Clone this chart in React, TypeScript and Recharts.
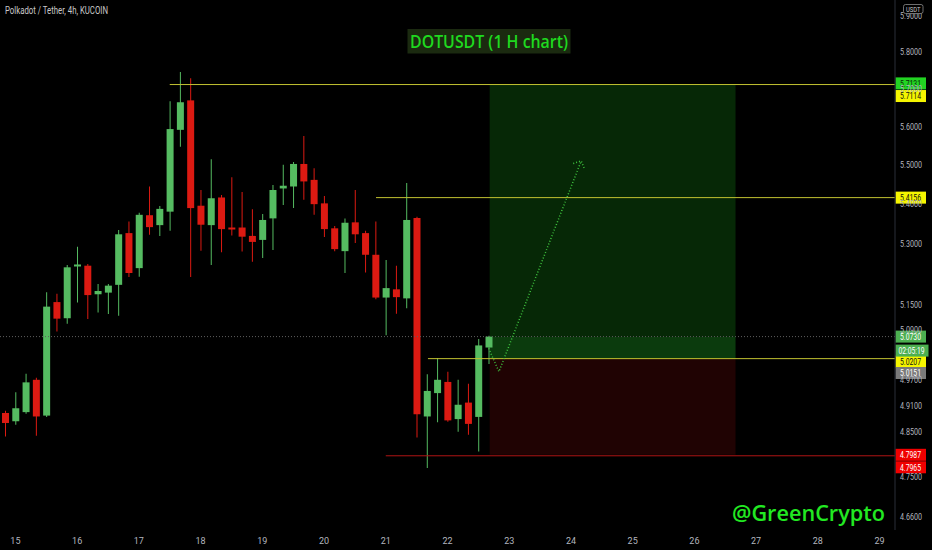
import React from 'react';
import {
  ComposedChart,
  Bar,
  Line,
  XAxis,
  YAxis,
  ReferenceLine,
  ReferenceArea,
  Cell,
} from 'recharts';

// DOT/USDT 4h candles, 14th 20:00 -> 22nd 16:00
const candleOpen = [4.894, 4.875, 4.896, 4.971, 4.888, 5.156, 5.117, 5.243, 5.245, 5.175, 5.179, 5.198, 5.326, 5.239, 5.371, 5.346, 5.380, 5.591, 5.669, 5.395, 5.346, 5.416, 5.340, 5.340, 5.319, 5.309, 5.363, 5.439, 5.444, 5.502, 5.461, 5.401, 5.338, 5.281, 5.353, 5.326, 5.272, 5.167, 5.187, 5.165, 5.364, 4.886, 4.940, 4.966, 4.880, 4.918, 4.885, 5.047];
const candleHigh = [4.899, 4.942, 4.985, 4.976, 5.180, 5.176, 5.247, 5.292, 5.249, 5.200, 5.200, 5.334, 5.355, 5.377, 5.444, 5.394, 5.667, 5.745, 5.728, 5.435, 5.514, 5.422, 5.468, 5.430, 5.386, 5.374, 5.448, 5.500, 5.507, 5.575, 5.491, 5.420, 5.344, 5.363, 5.435, 5.332, 5.355, 5.259, 5.245, 5.453, 5.367, 4.984, 5.022, 4.990, 4.971, 4.962, 5.067, 5.075];
const candleLow = [4.840, 4.867, 4.892, 4.842, 4.885, 5.085, 5.104, 5.155, 5.115, 5.131, 5.127, 5.123, 5.217, 5.218, 5.322, 5.319, 5.332, 5.547, 5.217, 5.282, 5.247, 5.278, 5.320, 5.280, 5.255, 5.264, 5.284, 5.397, 5.389, 5.410, 5.372, 5.316, 5.281, 5.227, 5.301, 5.228, 5.163, 5.076, 5.128, 5.141, 4.838, 4.769, 4.873, 4.874, 4.851, 4.844, 4.806, 5.008];
const candleClose = [4.871, 4.905, 4.965, 4.886, 5.145, 5.116, 5.241, 5.248, 5.173, 5.183, 5.196, 5.323, 5.227, 5.372, 5.341, 5.387, 5.593, 5.664, 5.389, 5.347, 5.414, 5.336, 5.335, 5.317, 5.304, 5.359, 5.435, 5.446, 5.502, 5.457, 5.399, 5.336, 5.286, 5.352, 5.323, 5.272, 5.167, 5.190, 5.168, 5.359, 4.891, 4.945, 4.971, 4.877, 4.913, 4.869, 5.052, 5.073];

// total 4h slots on screen (candles + empty future space)
const slotCount = 87;

// dotted projection path
const projIdx = [47, 48, 56];
const projVal = [5.045, 4.99, 5.51];

// x axis: day labels and the slot where each day starts
const dayLabels = ['15', '16', '17', '18', '19', '20', '21', '22', '23', '24', '25', '26', '27', '28', '29'];
const dayIdx = [1, 7, 13, 19, 25, 31, 37, 43, 49, 55, 61, 67, 73, 79, 85];

// y axis (log)
const priceTicks = [5.9, 5.8, 5.7, 5.6, 5.5, 5.4, 5.3, 5.2, 5.15, 5.09, 4.97, 4.91, 4.85, 4.75, 4.705, 4.66];
const priceDomain = [4.632, 5.943];

// long position tool + drawn levels
const entryPrice = 5.0207;
const targetPrice = 5.7131;
const stopPrice = 4.7987;
const lastPrice = 5.073;
const posStart = 47.1;
const posEnd = 71;
const hLevels = [5.7114, 5.4156, 5.0207, 4.7965];
const hStarts = [16, 36.05, 41.1, 37];
const tagPrices = [5.7131, 5.7114, 5.4156, 5.073, 5.0207, 5.0151, 4.7987, 4.7965];
const countdown = '02:05:19';

const UP = '#55bb61';
const DOWN = '#dc1a12';
const YELLOW = '#c2c231';
const FONT = "'Liberation Sans Narrow', Roboto, 'Noto Sans', sans-serif";

const tagStyle = [
  { bg: '#22d322', fg: '#0a2a0a', shift: -0.5 },
  { bg: '#f5f500', fg: '#111', shift: 11.5 },
  { bg: '#f5f500', fg: '#111', shift: 0 },
  { bg: '#4caf50', fg: '#fff', shift: 0 },
  { bg: '#f5f500', fg: '#111', shift: 3 },
  { bg: '#7a7a7a', fg: '#fff', shift: 12 },
  { bg: '#f00000', fg: '#fff', shift: 0 },
  { bg: '#f00000', fg: '#fff', shift: 11.5 },
];

const rows = Array.from({ length: slotCount }, (_, i) => {
  const has = i < candleOpen.length;
  const p = projIdx.indexOf(i);
  return {
    i,
    o: has ? candleOpen[i] : null,
    h: has ? candleHigh[i] : null,
    l: has ? candleLow[i] : null,
    c: has ? candleClose[i] : null,
    proj: p >= 0 ? projVal[p] : null,
  };
});

const bodyRange = (d: any) => (d.o == null ? null : [Math.min(d.o, d.c), Math.max(d.o, d.c)]);
const wickRange = (d: any) => (d.l == null ? null : [d.l, d.h]);

const PriceTick = (props: any) => {
  const { x, y, payload } = props;
  return (
    <text x={x} y={y} dy={3.2} fontSize={9} fill="#b2b5be" fontFamily={FONT} textLength={22} lengthAdjust="spacingAndGlyphs">
      {payload.value.toFixed(4)}
    </text>
  );
};

const DayTick = (props: any) => {
  const { x, payload } = props;
  return (
    <text x={x} y={544} fontSize={9} fill="#b2b5be" fontFamily={FONT} textAnchor="middle">
      {dayLabels[dayIdx.indexOf(payload.value)]}
    </text>
  );
};

const tag = (text: string, bg: string, fg: string, shift: number) => (props: any) => {
  const vb = props.viewBox || {};
  const x = (vb.x ?? 0) + (vb.width ?? 0) + 0.5;
  const y = (vb.y ?? 0) + shift;
  const wide = text.length > 6;
  return (
    <g>
      <rect x={x} y={y - 6} width={wide ? 33 : 30.5} height={12} fill={bg} />
      <text x={x + (wide ? 3 : 4.5)} y={y + 3.3} fontSize={9} fill={fg} fontFamily={FONT} textLength={wide ? 26 : 21} lengthAdjust="spacingAndGlyphs">
        {text}
      </text>
    </g>
  );
};

const ArrowHead = (props: any) => {
  const { cx, cy, index } = props;
  if (index !== projIdx[projIdx.length - 1] || cx == null) return <g key={`d${index}`} />;
  return (
    <path
      key={`d${index}`}
      d={`M${cx - 8},${cy + 2.6} L${cx},${cy} L${cx + 3.4},${cy + 8.3}`}
      fill="none"
      stroke="#3fc43f"
      strokeWidth={1.5}
      strokeDasharray="1 2"
    />
  );
};

export default function App() {
  return (
    <div style={{ position: 'relative', width: 932, height: 550, background: '#000' }}>
      <style>{'body{margin:0;background:#000}'}</style>
      <ComposedChart width={932} height={550} data={rows} margin={{ top: 0, right: 0, bottom: 0, left: 0 }}>
        <XAxis xAxisId="a" dataKey="i" type="category" hide />
        <XAxis xAxisId="w" dataKey="i" type="category" hide />
        <XAxis
          xAxisId="n"
          dataKey="i"
          type="number"
          domain={[-0.5, slotCount - 0.5]}
          allowDataOverflow
          ticks={dayIdx}
          tick={<DayTick />}
          tickLine={false}
          axisLine={{ stroke: '#2a2e39' }}
          height={20}
        />
        <YAxis
          orientation="right"
          scale="log"
          domain={priceDomain}
          allowDataOverflow
          ticks={priceTicks}
          tick={<PriceTick />}
          tickLine={false}
          tickSize={4}
          tickMargin={1}
          axisLine={{ stroke: '#2a2e39' }}
          width={37}
        />

        <ReferenceArea xAxisId="n" x1={posStart} x2={posEnd} y1={lastPrice} y2={targetPrice} fill="#062806" fillOpacity={1} stroke="none" />
        <ReferenceArea xAxisId="n" x1={posStart} x2={posEnd} y1={entryPrice} y2={lastPrice} fill="#0b3b0d" fillOpacity={1} stroke="none" />
        <ReferenceArea xAxisId="n" x1={posStart} x2={posEnd} y1={stopPrice} y2={entryPrice} fill="#200303" fillOpacity={1} stroke="none" />

        <ReferenceLine xAxisId="n" y={lastPrice} stroke="#5e5e5e" strokeDasharray="1 2" />
        {hLevels.map((p, k) => (
          <ReferenceLine
            key={`h${k}`}
            xAxisId="n"
            segment={[{ x: hStarts[k], y: p }, { x: slotCount - 0.5, y: p }]}
            stroke={k === hLevels.length - 1 ? '#b01414' : YELLOW}
            strokeWidth={1}
          />
        ))}

        <Bar xAxisId="w" dataKey={wickRange} barSize={1} isAnimationActive={false}>
          {rows.map((d, k) => (
            <Cell key={`w${k}`} fill={d.c != null && d.c >= d.o! ? UP : DOWN} />
          ))}
        </Bar>
        <Bar xAxisId="a" dataKey={bodyRange} barSize={7} isAnimationActive={false}>
          {rows.map((d, k) => (
            <Cell key={`b${k}`} fill={d.c != null && d.c >= d.o! ? UP : DOWN} />
          ))}
        </Bar>

        <Line
          xAxisId="n"
          dataKey="proj"
          connectNulls
          stroke="#3fc43f"
          strokeWidth={1.5}
          strokeDasharray="1 2"
          dot={ArrowHead}
          activeDot={false}
          isAnimationActive={false}
        />

        {tagPrices.map((p, k) => (
          <ReferenceLine
            key={`t${k}`}
            xAxisId="n"
            y={p}
            stroke="none"
            label={tag(p.toFixed(4), tagStyle[k].bg, tagStyle[k].fg, tagStyle[k].shift)}
          />
        ))}
        <ReferenceLine xAxisId="n" y={lastPrice} stroke="none" label={tag(countdown, '#4caf50', '#fff', 14)} />
      </ComposedChart>

      <svg width={932} height={550} style={{ position: 'absolute', left: 0, top: 0, pointerEvents: 'none' }}>
        <text x={5} y={14} fontSize={10} fill="#c9c9c9" fontFamily={FONT} textLength={103} lengthAdjust="spacingAndGlyphs">
          Polkadot / Tether, 4h, KUCOIN
        </text>
        <rect x={903.5} y={4.5} width={19.5} height={9} rx={2} fill="#000" stroke="#8a8a8a" strokeWidth={0.8} />
        <text x={906} y={11.6} fontSize={7} fill="#c9c9c9" fontFamily={FONT} textLength={14.5} lengthAdjust="spacingAndGlyphs">
          USDT
        </text>
        <rect x={407.5} y={29} width={163} height={24.5} fill="#1b2a10" />
        <text x={410} y={47.5} fontSize={18} fontWeight={600} fill="#1fd91f" fontFamily="'Open Sans', sans-serif" textLength={158} lengthAdjust="spacingAndGlyphs">
          DOTUSDT (1 H chart)
        </text>
        <text x={732} y={520.5} fontSize={22} fontWeight={600} fill="#22e822" fontFamily="'Open Sans', sans-serif" textLength={153} lengthAdjust="spacingAndGlyphs">
          @GreenCrypto
        </text>
      </svg>
    </div>
  );
}
